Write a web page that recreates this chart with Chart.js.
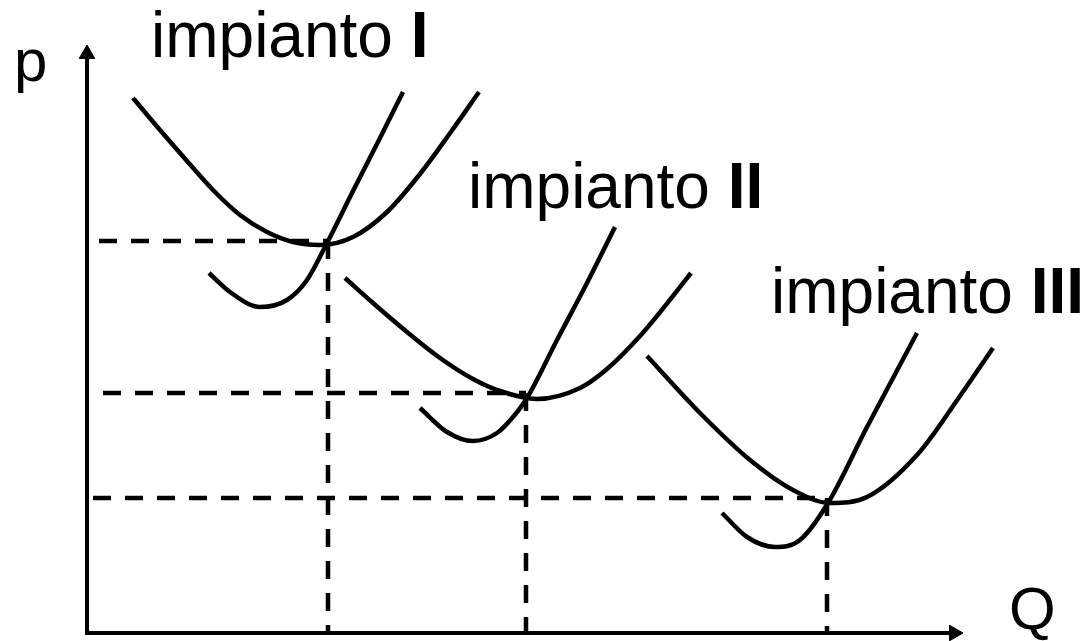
<!DOCTYPE html>
<html lang="it">
<head>
    <meta charset="UTF-8">
    <title>Impianti - costi medi e marginali</title>
    <script src="https://cdn.jsdelivr.net/npm/chart.js"></script>
    <style>
        body { margin: 0; background: #fff; }
        #wrap { width: 1086px; height: 641px; position: relative; }
    </style>
</head>
<body>
    <div id="wrap">
        <canvas id="costChart"></canvas>
    </div>

    <script>
        // Q and p values (origin at the axes corner)
        const acI_Q = [46, 73, 100, 126, 153, 180, 206, 233, 266, 300, 333, 366, 392];
        const acI_P = [535, 503, 472, 443, 418, 401, 391, 388, 396, 421, 459, 504, 541];
        const mcI_Q = [122, 143, 173, 200, 220, 240, 266, 293, 316];
        const mcI_P = [360, 341, 326, 333, 353, 390, 442, 495, 541];

        const acII_Q = [258, 286, 320, 353, 386, 413, 450, 493, 520, 553, 586, 604];
        const acII_P = [355, 330, 301, 275, 254, 242, 234, 245, 264, 297, 337, 360];
        const mcII_Q = [333, 360, 386, 410, 426, 440, 470, 500, 528];
        const mcII_P = [225, 201, 192, 200, 216, 235, 293, 350, 406];

        const acIII_Q = [560, 613, 663, 706, 743, 780, 830, 873, 906];
        const acIII_P = [277, 220, 173, 143, 130, 136, 178, 237, 285];
        const mcIII_Q = [635, 660, 688, 713, 741, 780, 830];
        const mcIII_P = [120, 96, 86, 93, 130, 206, 300];

        // minimum points of the average cost curves (dashed guides)
        const minQ = [241, 439, 740];
        const minP = [392, 240, 135];
        const guideStartQ = [12, 16, 6];

        // axes
        const axisQEnd = 867;
        const axisPEnd = 579;

        // labels
        const plantNames = ['impianto', 'impianto', 'impianto'];
        const plantNumerals = ['I', 'II', 'III'];
        const plantLabelQ = [64, 381, 684];
        const plantLabelP = [576, 425, 320];

        function toPoints(qs, ps) {
            return qs.map((q, i) => ({ x: q, y: ps[i] }));
        }

        function curve(qs, ps) {
            return {
                data: toPoints(qs, ps),
                showLine: true,
                borderColor: '#000',
                borderWidth: 4.5,
                borderCapStyle: 'butt',
                pointRadius: 0,
                cubicInterpolationMode: 'monotone'
            };
        }

        function guide(points) {
            return {
                data: points,
                showLine: true,
                borderColor: '#000',
                borderWidth: 4.5,
                borderDash: [18, 14],
                pointRadius: 0,
                tension: 0
            };
        }

        function axis(points, rot) {
            return {
                data: points,
                showLine: true,
                borderColor: '#000',
                borderWidth: 4,
                borderCapStyle: 'square',
                pointRadius: [0, 9],
                pointStyle: 'triangle',
                rotation: rot,
                pointBackgroundColor: '#000',
                pointBorderColor: '#000',
                pointBorderWidth: 1,
                tension: 0
            };
        }

        const datasets = [
            axis([{ x: 0, y: 0 }, { x: axisQEnd, y: 0 }], 90),
            axis([{ x: 0, y: 0 }, { x: 0, y: axisPEnd }], 0)
        ];

        minQ.forEach((q, i) => {
            datasets.push(guide([{ x: guideStartQ[i], y: minP[i] }, { x: q, y: minP[i] }]));
            datasets.push(guide([{ x: q, y: minP[i] }, { x: q, y: 0 }]));
        });

        datasets.push(curve(acI_Q, acI_P), curve(mcI_Q, mcI_P));
        datasets.push(curve(acII_Q, acII_P), curve(mcII_Q, mcII_P));
        datasets.push(curve(acIII_Q, acIII_P), curve(mcIII_Q, mcIII_P));

        // text labels drawn at data positions
        const labelPlugin = {
            id: 'labels',
            afterDatasetsDraw(chart) {
                const ctx = chart.ctx;
                const xs = chart.scales.x;
                const ys = chart.scales.y;
                ctx.save();
                ctx.fillStyle = '#000';
                ctx.textBaseline = 'alphabetic';
                ctx.textAlign = 'left';

                plantNames.forEach((name, i) => {
                    const px = xs.getPixelForValue(plantLabelQ[i]);
                    const py = ys.getPixelForValue(plantLabelP[i]);
                    ctx.font = '64px "Liberation Sans", Arial, sans-serif';
                    const head = name + ' ';
                    ctx.fillText(head, px, py);
                    const w = ctx.measureText(head).width;
                    ctx.font = 'bold 64px "Liberation Sans", Arial, sans-serif';
                    ctx.fillText(plantNumerals[i], px + w, py);
                });

                ctx.font = '60px "Liberation Sans", Arial, sans-serif';
                ctx.fillText('p', xs.getPixelForValue(-73), ys.getPixelForValue(552));
                ctx.fillText('Q', xs.getPixelForValue(922), ys.getPixelForValue(4));
                ctx.restore();
            }
        };

        new Chart(document.getElementById('costChart'), {
            type: 'scatter',
            data: { datasets: datasets },
            options: {
                responsive: true,
                maintainAspectRatio: false,
                animation: false,
                layout: { padding: 0, autoPadding: false },
                plugins: {
                    legend: { display: false },
                    tooltip: { enabled: false }
                },
                scales: {
                    x: { type: 'linear', display: false, min: -87, max: 999 },
                    y: { type: 'linear', display: false, min: -8, max: 633 }
                }
            },
            plugins: [labelPlugin]
        });
    </script>
</body>
</html>
